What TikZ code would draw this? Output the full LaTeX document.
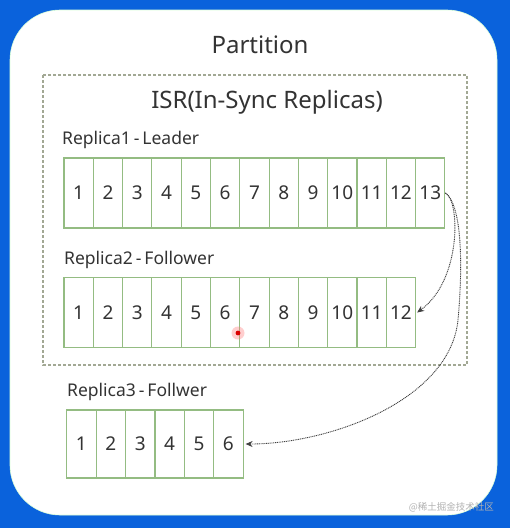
\documentclass[tikz,border=0pt]{standalone}
\usepackage{fontspec}
\setmainfont{Noto Sans}
\newfontfamily\cjkwm{Noto Sans CJK SC}
\usetikzlibrary{arrows.meta}
\definecolor{bgblue}{HTML}{0A62DC}
\definecolor{cellgreen}{HTML}{94BC82}
\definecolor{isrgray}{HTML}{A2A894}
\definecolor{txt}{HTML}{333333}
\tikzset{
  cellbox/.style={draw=cellgreen, line width=1.1pt, fill=white, minimum width=29.3pt, minimum height=70pt, inner sep=0pt, font=\fontsize{19}{19}\selectfont, text=txt},
  lbl/.style={anchor=west, inner sep=0pt, font=\fontsize{17.5}{18}\selectfont, text=txt},
  syncarrow/.style={draw=black!75, line width=0.9pt, dash pattern=on 1pt off 0.8pt, -{Stealth[length=7pt,width=6pt]}}
}
\begin{document}
\begin{tikzpicture}[x=1pt,y=-1pt]
\useasboundingbox (0,0) rectangle (510,528);
\fill[bgblue] (0,0) rectangle (510,528);
\filldraw[fill=white, draw=white!85!green, line width=0.6pt, rounded corners=50pt] (10,10) rectangle (497,515);
\node[text=txt, font=\fontsize{24}{26}\selectfont, inner sep=0pt] (part) at (260,45) {Partition};
\draw[isrgray, line width=1.1pt, dash pattern=on 3pt off 2pt] (43,75) rectangle (467,365);
\node[text=txt, font=\fontsize{24}{26}\selectfont, inner sep=0pt] (isr) at (267,102) {ISR(In-Sync Replicas)};
\node[lbl] (l1) at (62,140) {Replica1\,-\,Leader};
\node[lbl] (l2) at (64,260) {Replica2\,-\,Follower};
\node[lbl] (l3) at (67,392) {Replica3\,-\,Follwer};
\foreach \i in {1,...,13} {
  \node[cellbox] (r1c\i) at ({64+29.3*(\i-0.5)},193) {\i};
}
\foreach \i in {1,...,12} {
  \node[cellbox] (r2c\i) at ({64+29.3*(\i-0.5)},312.5) {\i};
}
\foreach \i in {1,...,6} {
  \node[cellbox, minimum height=68pt] (r3c\i) at ({66.7+29.4*(\i-0.5)},444) {\i};
}
\draw[syncarrow] (r1c13.east) .. controls (460,200) and (462,280) .. ([xshift=1pt]r2c12.east);
\draw[syncarrow] (r1c13.east) .. controls (462,205) and (463,265) .. (458,320) .. controls (450,400) and (330,444) .. ([xshift=2pt]r3c6.east);
\fill[red!55, opacity=0.35] (238,333) circle (6.5pt);
\fill[red!85!black] (238,333) circle (2.4pt);
\node[anchor=east, inner sep=0pt, text=black!30, font=\cjkwm\fontsize{9.5}{10}\selectfont] (wm) at (494,507) {@稀土掘金技术社区};
\end{tikzpicture}
\end{document}
